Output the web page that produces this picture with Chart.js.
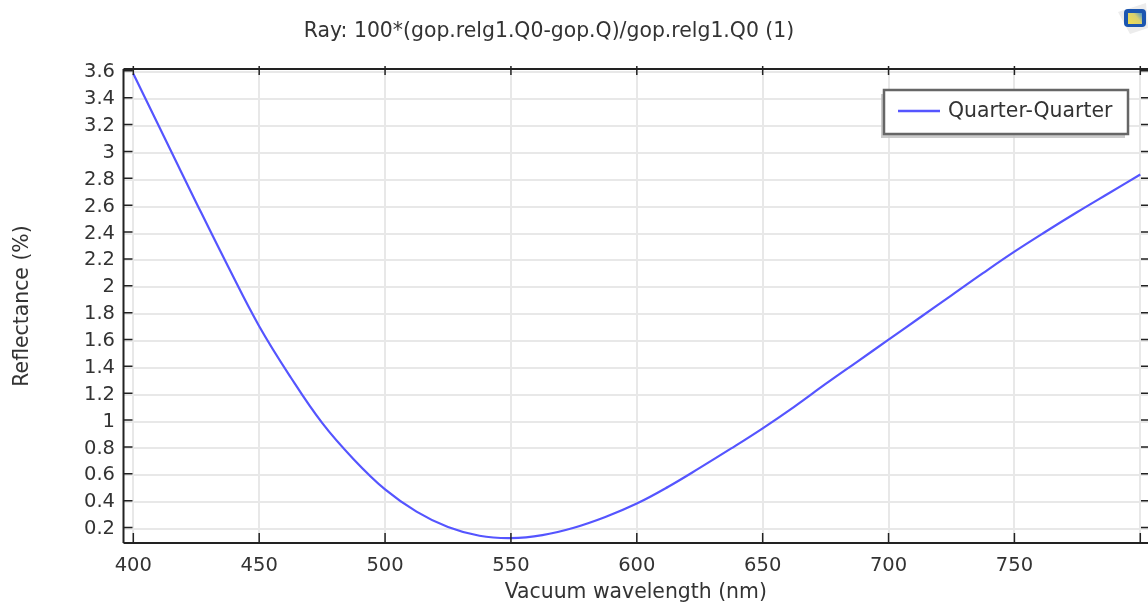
<!DOCTYPE html>
<html>
<head>
<meta charset="utf-8">
<title>Reflectance</title>
<script src="https://cdn.jsdelivr.net/npm/chart.js@4"></script>
<style>
    html, body { margin: 0; padding: 0; background: #fff; overflow: hidden; }
    #wrap { position: relative; width: 1148px; height: 605px; }
</style>
</head>
<body>
<div id="wrap"><canvas id="chart" width="1148" height="605"></canvas></div>
<script>
const plotTitle = 'Ray: 100*(gop.relg1.Q0-gop.Q)/gop.relg1.Q0 (1)';
const seriesName = 'Quarter-Quarter';
const xLabel = 'Vacuum wavelength (nm)';
const yLabel = 'Reflectance (%)';
const wavelengths = [400, 412.5, 425, 437.5, 450, 462.5, 475, 487.5, 500, 512.5, 525, 537.5, 550, 562.5, 575, 587.5, 600, 612.5, 625, 637.5, 650, 662.5, 675, 687.5, 700, 712.5, 725, 737.5, 750, 762.5, 775, 787.5, 800];
const reflectance = [3.59, 3.11, 2.63, 2.16, 1.71, 1.33, 0.99, 0.72, 0.495, 0.33, 0.215, 0.15, 0.133, 0.155, 0.21, 0.29, 0.39, 0.515, 0.655, 0.80, 0.95, 1.11, 1.28, 1.445, 1.61, 1.775, 1.94, 2.105, 2.265, 2.415, 2.56, 2.70, 2.84];

const FONT = '"DejaVu Sans"';
const TEXT = '#333333';
const FRAME = '#222222';
const LINE = '#5555ff';

// inward ticks, frame, title, legend box and the little icon top right
const decorations = {
    id: 'decorations',
    afterDraw(chart) {
        const ctx = chart.ctx;
        const { left, right, top, bottom } = chart.chartArea;
        const xs = chart.scales.x, ys = chart.scales.y;
        ctx.save();

        ctx.strokeStyle = FRAME;
        ctx.lineWidth = 2;
        ctx.beginPath();
        ctx.moveTo(left, top); ctx.lineTo(right, top);
        ctx.moveTo(left, top); ctx.lineTo(left, bottom);
        ctx.moveTo(left, bottom); ctx.lineTo(right, bottom);
        ctx.stroke();

        ctx.lineWidth = 1.5;
        ctx.beginPath();
        xs.ticks.forEach(t => {
            const px = xs.getPixelForValue(t.value);
            ctx.moveTo(px, bottom); ctx.lineTo(px, bottom - 10);
            ctx.moveTo(px, top - 3); ctx.lineTo(px, top + 6);
        });
        ys.ticks.forEach(t => {
            const py = ys.getPixelForValue(t.value) - 1.5;
            ctx.moveTo(left, py); ctx.lineTo(left + 9, py);
            ctx.moveTo(1141, py); ctx.lineTo(right, py);
        });
        ctx.stroke();

        ctx.fillStyle = TEXT;
        ctx.font = '20.4px ' + FONT;
        ctx.textAlign = 'center';
        ctx.textBaseline = 'middle';
        ctx.fillText(plotTitle, 549, 32);

        // legend
        ctx.fillStyle = 'rgba(190,190,190,0.8)';
        ctx.fillRect(881, 94, 244, 44);
        ctx.fillStyle = '#fff';
        ctx.strokeStyle = '#666';
        ctx.lineWidth = 2.5;
        ctx.fillRect(884, 90, 244, 44);
        ctx.strokeRect(884, 90, 244, 44);
        ctx.strokeStyle = LINE;
        ctx.beginPath();
        ctx.moveTo(898, 111); ctx.lineTo(940, 111);
        ctx.stroke();
        ctx.fillStyle = TEXT;
        ctx.textAlign = 'left';
        ctx.fillText(seriesName, 948, 112);

        // icon
        ctx.fillStyle = '#ececec';
        ctx.beginPath();
        ctx.moveTo(1118, 12); ctx.lineTo(1146, 3); ctx.lineTo(1148, 28); ctx.lineTo(1130, 34);
        ctx.closePath();
        ctx.fill();
        ctx.fillStyle = '#1c56b0';
        ctx.beginPath();
        ctx.roundRect(1124, 9, 22, 18, 4);
        ctx.fill();
        const g = ctx.createLinearGradient(1128, 24, 1142, 12);
        g.addColorStop(0, '#f2de4e');
        g.addColorStop(0.6, '#d8d070');
        g.addColorStop(1, '#3a8fd8');
        ctx.fillStyle = g;
        ctx.fillRect(1128, 13, 14, 11);
        ctx.restore();
    }
};

new Chart(document.getElementById('chart'), {
    type: 'line',
    data: {
        datasets: [{
            label: seriesName,
            data: wavelengths.map((w, i) => ({ x: w, y: reflectance[i] })),
            borderColor: LINE,
            borderWidth: 2.2,
            pointRadius: 0,
            tension: 0.4,
            fill: false
        }]
    },
    options: {
        responsive: false,
        animation: false,
        layout: { padding: { top: 69, left: 0, right: 0, bottom: 0 } },
        plugins: { legend: { display: false }, title: { display: false }, tooltip: { enabled: false } },
        scales: {
            x: {
                type: 'linear',
                min: 396.1,
                max: 803.06,
                afterFit(scale) { scale.height = 62; scale.paddingLeft = 0; scale.paddingRight = 0; },
                grid: { color: '#e8e8e8', lineWidth: 2, drawTicks: false },
                border: { display: false },
                ticks: {
                    stepSize: 50,
                    includeBounds: false,
                    maxRotation: 0,
                    autoSkip: false,
                    padding: 11,
                    color: TEXT,
                    font: { family: FONT, size: 19.5 },
                    callback: v => (v < 800 ? String(v) : '')
                },
                title: {
                    display: true,
                    text: xLabel,
                    color: TEXT,
                    font: { family: FONT, size: 20.4 },
                    padding: { top: 0, bottom: 0 }
                }
            },
            y: {
                min: 0.096,
                max: 3.625,
                afterFit(scale) { scale.width = 123.5; scale.paddingTop = 0; scale.paddingBottom = 0; },
                grid: { color: '#e8e8e8', lineWidth: 2, drawTicks: false },
                border: { display: false },
                ticks: {
                    stepSize: 0.2,
                    includeBounds: false,
                    autoSkip: false,
                    padding: 8.5,
                    color: TEXT,
                    font: { family: FONT, size: 19.5 },
                    callback: v => String(Number(v.toFixed(1)))
                },
                title: {
                    display: true,
                    text: yLabel,
                    color: TEXT,
                    font: { family: FONT, size: 20.4 },
                    padding: { top: 10, bottom: 0 }
                }
            }
        }
    },
    plugins: [decorations]
});
</script>
</body>
</html>
